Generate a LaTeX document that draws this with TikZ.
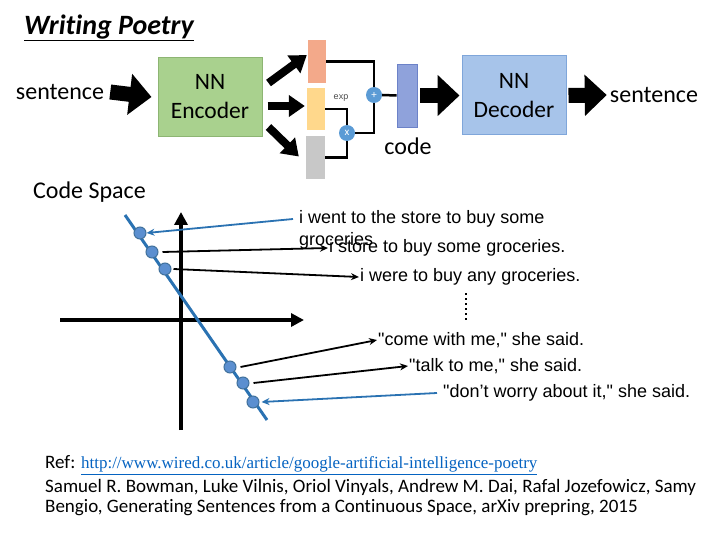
\documentclass[tikz,border=0pt]{standalone}
\usepackage{fontspec}
\setmainfont{Carlito}[Ligatures=NoCommon]
\newfontfamily\arialf{Liberation Sans}
\newfontfamily\timesf{Liberation Serif}
\usetikzlibrary{arrows.meta,calc}
\definecolor{encfill}{HTML}{A9D18E}
\definecolor{encline}{HTML}{8DB573}
\definecolor{decfill}{HTML}{A7C4EA}
\definecolor{decline}{HTML}{7FA6DA}
\definecolor{orangebar}{HTML}{F3A98A}
\definecolor{yellowbar}{HTML}{FFD88C}
\definecolor{graybar}{HTML}{C8C8C8}
\definecolor{codebar}{HTML}{8FA2DB}
\definecolor{codeline}{HTML}{6C82C8}
\definecolor{opblue}{HTML}{5B9BD5}
\definecolor{dotblue}{HTML}{5B8FD0}
\definecolor{dotline}{HTML}{41719C}
\definecolor{lineblue}{HTML}{2A72B2}
\definecolor{linkblue}{HTML}{0563C1}
\tikzset{
  lbl/.style={font=\fontsize{24}{28}\selectfont, inner sep=0pt},
  boxnode/.style={minimum width=104pt, minimum height=79pt, align=center, font=\fontsize{23.5}{29}\selectfont, line width=1pt},
  barnode/.style={minimum width=18pt, minimum height=43pt, inner sep=0pt},
  opnode/.style={circle, fill=opblue, text=white, minimum size=16pt, inner sep=0pt, font=\fontsize{11}{11}\selectfont},
  wire/.style={line width=2.5pt, line join=miter},
  bigarrow/.style={line width=15pt, -{Triangle[length=22pt, width=40pt]}},
  medarrow/.style={line width=8pt, -{Triangle[length=16pt, width=21pt]}},
  axisline/.style={line width=4pt, -{Triangle[length=13pt, width=13pt]}},
  dotnode/.style={circle, fill=dotblue, draw=dotline, line width=1pt, minimum size=12pt, inner sep=0pt},
  sent/.style={font=\arialf\fontsize{18}{22}\selectfont, inner sep=1pt, anchor=west, align=left},
  blackarr/.style={line width=1.8pt, -{Stealth[length=8pt, width=7pt]}},
  bluearr/.style={line width=1.8pt, draw=lineblue, -{Stealth[length=8pt, width=7pt]}},
  reftext/.style={font=\fontsize{19}{21}\selectfont, inner sep=0pt, anchor=west}
}
\begin{document}
\begin{tikzpicture}[x=1pt,y=-1pt]
\useasboundingbox (0,0) rectangle (720,540);
% title
\node[font=\fontsize{28}{30}\selectfont\bfseries\itshape, inner sep=0pt] (title) at (109,28) {\underline{Writing Poetry}};
% top pipeline
\node[lbl] (s1) at (60,92) {sentence};
\node[boxnode, fill=encfill, draw=encline] (enc) at (210,97) {NN\\Encoder};
\node[barnode, fill=orangebar] (b1) at (317,61.5) {};
\node[barnode, fill=yellowbar, minimum height=42pt] (b2) at (316,109) {};
\node[barnode, fill=graybar, minimum width=19pt] (b3) at (315.5,157.5) {};
\node[opnode] (plus) at (374,95) {+};
\node[opnode] (times) at (347,133) {x};
\node[font=\arialf\fontsize{9}{9}\selectfont, text=black!70, inner sep=0pt] (exp) at (341,98) {exp};
\node[barnode, fill=codebar, draw=codeline, line width=0.8pt, minimum width=20pt, minimum height=63pt] (code) at (407,95.5) {};
\node[lbl] (codelbl) at (408,146) {code};
\node[boxnode, fill=decfill, draw=decline] (dec) at (514,95.5) {NN\\Decoder};
\node[lbl] (s2) at (654,95) {sentence};
\draw[bigarrow] ([xshift=6pt]s1.east) -- ([xshift=-6pt]enc.west);
\draw[bigarrow] ([xshift=3pt]code.east) -- ([xshift=-2pt]dec.west);
\draw[bigarrow] ([xshift=2pt]dec.east) -- ([xshift=-3pt]s2.west);
\draw[medarrow] ([xshift=6pt,yshift=14pt]enc.east) -- ([xshift=-1pt,yshift=6.5pt]b1.west);
\draw[medarrow] ([xshift=5pt,yshift=-9pt]enc.east) -- ([xshift=-2pt,yshift=3pt]b2.west);
\draw[medarrow] ([xshift=6pt,yshift=-30pt]enc.east) -- ([xshift=-7pt,yshift=1pt]b3.west);
\draw[wire] (b1.east) -| (plus.north);
\draw[wire] (b2.east) -| (times.north);
\draw[wire] (b3.east) -| (times.south);
\draw[wire] (times.east) -| (plus.south);
\draw[wire] (plus.east) -- (code.west);
% code space
\node[lbl] (cs) at (89.5,192) {Code Space};
\coordinate (vb) at (181,430);
\coordinate (vt) at (181,212);
\coordinate (hl) at (60,320);
\coordinate (hr) at (304,320);
\draw[axisline] (vb) -- (vt);
\draw[axisline] (hl) -- (hr);
\coordinate (la) at (125,215);
\coordinate (lb) at (267,420);
\draw[line width=3pt, lineblue] (la) -- (lb);
\node[dotnode] (d1) at (140,233) {};
\node[dotnode] (d2) at (152,252) {};
\node[dotnode] (d3) at (165,269) {};
\node[dotnode] (d4) at (230,367) {};
\node[dotnode] (d5) at (243,383) {};
\node[dotnode] (d6) at (253,402) {};
\node[sent] (t1) at (298,230) {i went to the store to buy some\\groceries};
\node[sent] (t2) at (328,248) {i store to buy some groceries.};
\node[sent] (t3) at (359,277) {i were to buy any groceries.};
\node[sent] (t4) at (377,340) {"come with me," she said.};
\node[sent] (t5) at (408,366) {"talk to me," she said.};
\node[sent] (t6) at (442,393) {"don’t worry about it," she said.};
\draw[bluearr] ([yshift=11pt,xshift=-5pt]t1.west) -- (d1.east);
\draw[blackarr] ([xshift=4pt]d2.east) -- (t2.west);
\draw[blackarr] ([xshift=2pt]d3.east) -- (t3.west);
\draw[blackarr] ([xshift=4pt]d4.east) -- (t4.west);
\draw[blackarr] ([xshift=4pt]d5.east) -- (t5.west);
\draw[bluearr] ([xshift=-5pt]t6.west) -- ([xshift=2pt]d6.east);
\coordinate (dt) at (466,293);
\coordinate (db) at (466,321);
\draw[line width=1.8pt, dash pattern=on 1.6pt off 3.4pt] (dt) -- (db);
% references
\node[reftext] (ref) at (45,465) {Ref: \textcolor{linkblue}{\timesf\fontsize{17}{21}\selectfont\underline{http://www.wired.co.uk/article/google-artificial-intelligence-poetry}}};
\node[reftext] (auth1) at (45,487) {Samuel R. Bowman, Luke Vilnis, Oriol Vinyals, Andrew M. Dai, Rafal Jozefowicz, Samy};
\node[reftext] (auth2) at (45,508) {Bengio, Generating Sentences from a Continuous Space, arXiv prepring, 2015};
\end{tikzpicture}
\end{document}
